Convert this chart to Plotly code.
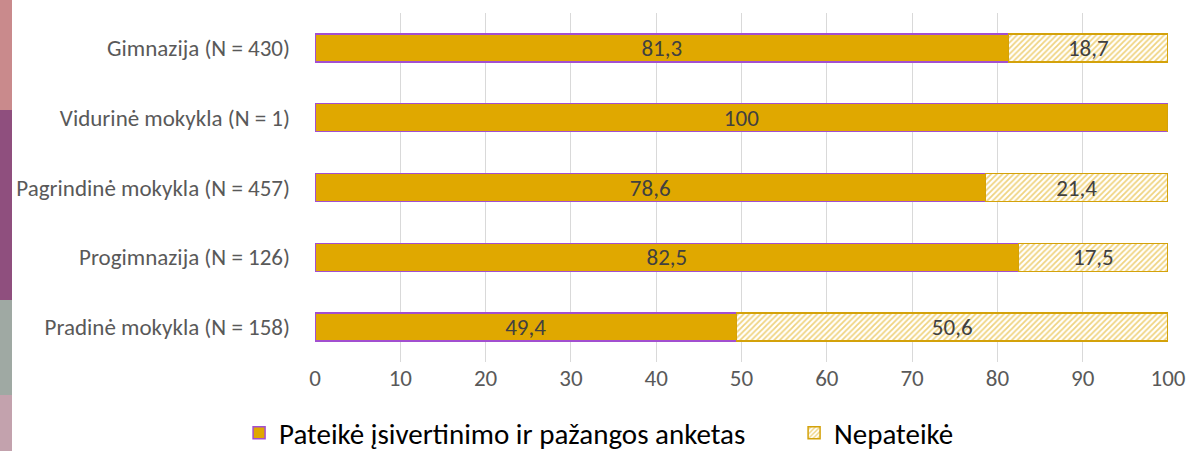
import plotly.graph_objects as go

# Mokyklų tipai (iš viršaus į apačią)
schools = ['Gimnazija (N = 430)', 'Vidurinė mokykla (N = 1)', 'Pagrindinė mokykla (N = 457)',
           'Progimnazija (N = 126)', 'Pradinė mokykla (N = 158)']
submitted = [81.3, 100, 78.6, 82.5, 49.4]
not_submitted = [18.7, 0, 21.4, 17.5, 50.6]

x_ticks = [0, 10, 20, 30, 40, 50, 60, 70, 80, 90, 100]

GOLD = '#E0A800'
FONT = 'Carlito, Lato, sans-serif'


def fmt(v):
    return ('%g' % v).replace('.', ',') if v else ''


fig = go.Figure()

fig.add_trace(go.Bar(
    y=schools, x=submitted, orientation='h',
    name='Pateikė įsivertinimo ir pažangos anketas',
    marker=dict(color=GOLD, line=dict(color='#A24FD0', width=1.5)),
    text=[fmt(v) for v in submitted], textposition='inside', insidetextanchor='middle',
    textfont=dict(color='#404040', size=23, family=FONT),
))
fig.add_trace(go.Bar(
    y=schools, x=not_submitted, orientation='h',
    name='Nepateikė',
    marker=dict(color='white', line=dict(color='#D4A20A', width=1.5),
                pattern=dict(shape='/', fgcolor=GOLD, bgcolor='white', size=4, solidity=0.45)),
    text=[fmt(v) for v in not_submitted], textposition='inside', insidetextanchor='middle',
    textfont=dict(color='#404040', size=23, family=FONT),
))

# dekoratyvi juosta kairiajame krašte
strip = [(0, 110, '#c98a8c'), (110, 300, '#8f4f7e'), (300, 395, '#9fa9a3'), (395, 451, '#c3a2ad')]
shapes = []
for top, bottom, col in strip:
    shapes.append(dict(type='rect', xref='paper', yref='paper', layer='below',
                       x0=-315 / 853, x1=-303 / 853,
                       y0=(362 - bottom) / 349, y1=(362 - top) / 349,
                       fillcolor=col, line=dict(width=0)))

fig.update_layout(
    barmode='stack', bargap=0.6,
    width=1188, height=451,
    margin=dict(l=315, r=20, t=13, b=89, autoexpand=False),
    paper_bgcolor='white', plot_bgcolor='white',
    font=dict(family=FONT, size=23, color='#595959'),
    showlegend=True,
    legend=dict(orientation='h', x=-0.089, xanchor='left', y=(362 - 433) / 349, yanchor='middle',
                font=dict(size=29, color='#000000'), traceorder='normal',
                entrywidth=510, entrywidthmode='pixels'),
    shapes=shapes,
    uniformtext=dict(minsize=23, mode='show'),
)
fig.update_xaxes(range=[0, 100], tickvals=x_ticks, showgrid=True, gridcolor='#d9d9d9', gridwidth=1,
                 zeroline=False, showline=False, ticks='', automargin=False,
                 tickfont=dict(size=23, color='#595959'))
fig.update_yaxes(autorange='reversed', showgrid=False, showline=False, ticks='', ticklabelstandoff=24,
                 automargin=False, tickfont=dict(size=23, color='#595959'))

fig.write_html('out.html', config={'displayModeBar': False},
               post_script="document.body.style.margin='0';")
